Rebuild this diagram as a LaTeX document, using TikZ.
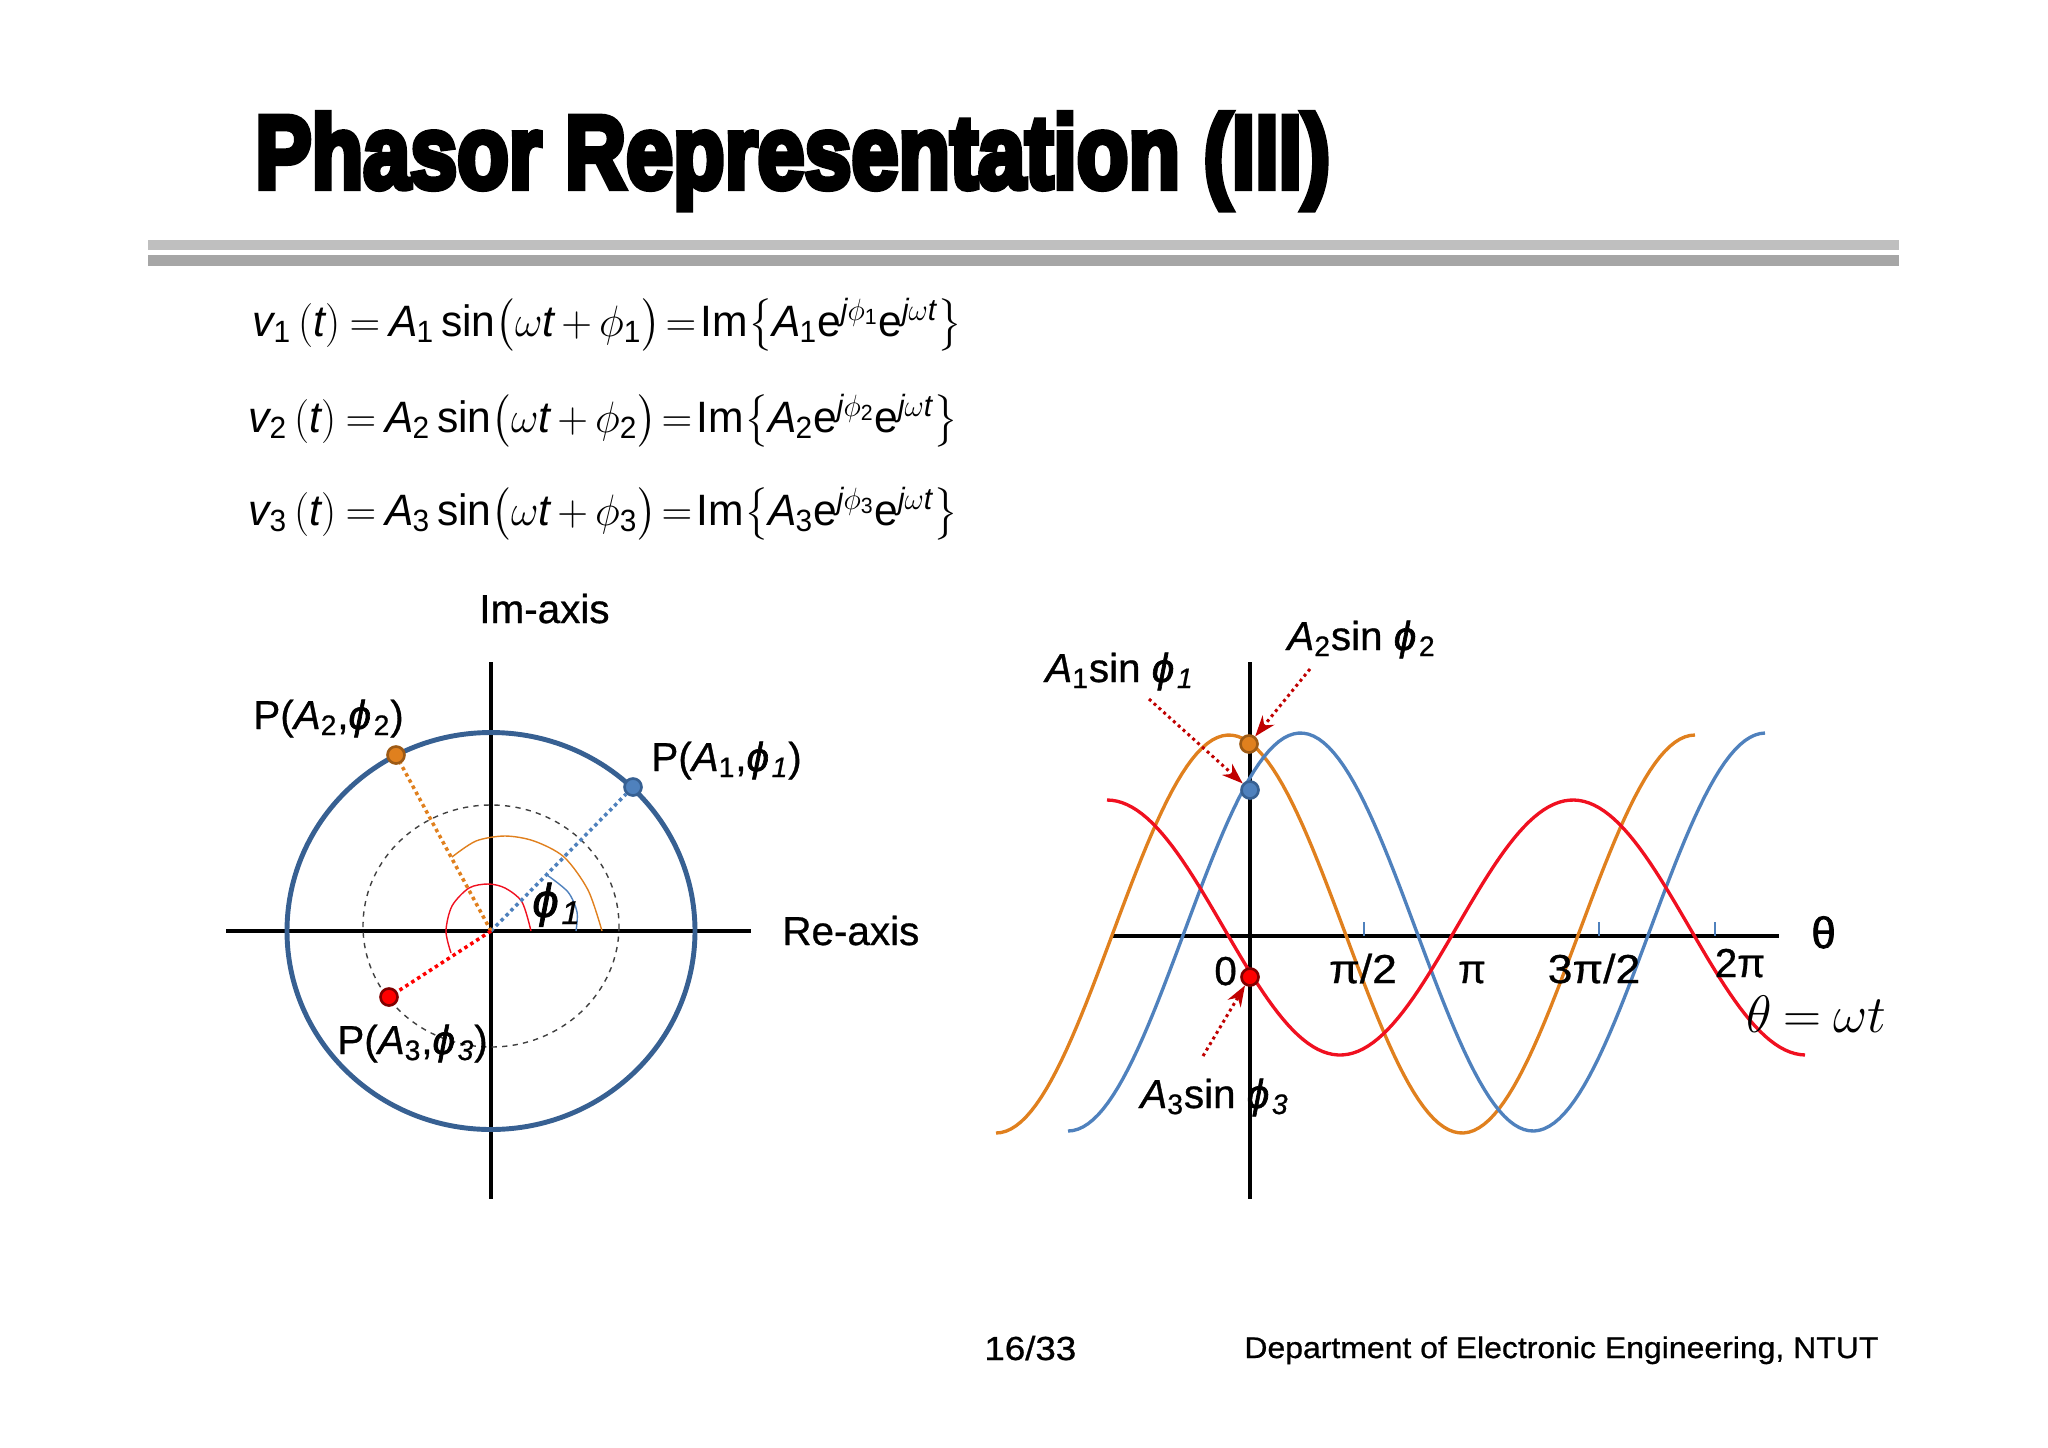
\documentclass[tikz,border=0pt]{standalone}
\usepackage{fix-cm}
\usepackage{amsmath,amssymb}
\usepackage{exscale}
\usepackage{fontspec}
\usepackage{xcolor}
\setmainfont{Liberation Sans}
\newfontfamily\titlefont[BoldFeatures={FakeBold=6}]{Liberation Sans}
\newfontfamily\labelfont[FakeBold=0.7]{Liberation Sans}
\newfontfamily\phifont[FakeBold=1.6]{Liberation Sans}
\usetikzlibrary{arrows.meta,positioning,calc}

\definecolor{phblue}{HTML}{4F81BD}
\definecolor{phring}{HTML}{376092}
\definecolor{phorange}{HTML}{E0801E}
\definecolor{phred}{HTML}{F01020}
\definecolor{pharrow}{HTML}{C00000}

\newcommand{\phasorline}[1]{$\text{\itshape v}_{\text{#1}}\left(\text{\itshape t}\right)\mkern-1mu=\mkern-1mu\text{\itshape A}_{\mkern-1mu\text{#1}}\,\text{sin}\bigl(\omega\text{\itshape t}\mkern-1mu+\mkern-1mu\phi_{\text{#1}}\bigr)\!=\!\text{Im}\!\left\{\text{\itshape A}_{\mkern-1mu\text{#1}}\text{e}^{\text{\itshape j}\phi_{\text{#1}}}\text{e}^{\text{\itshape j}\omega\text{\itshape t}}\right\}$}
\newcommand{\bphi}{{\phifont\itshape ϕ\kern 1.5pt}}
\newcommand{\subi}[1]{$_{\text{\itshape #1}}$}
\newcommand{\subr}[1]{$_{\text{#1}}$}

\tikzset{
    lbl/.style={anchor=base west, inner sep=0pt, font=\labelfont\fontsize{23}{27}\selectfont},
    eqn/.style={anchor=base west, inner sep=0pt, xscale=0.97, font=\fontsize{25}{29}\selectfont},
    foot/.style={anchor=base west, inner sep=0pt, font=\labelfont\fontsize{17}{20}\selectfont},
    axis/.style={black, line width=2pt},
    wave/.style={line width=1.9pt},
    dot/.style={circle, inner sep=0pt, minimum size=0.34cm, line width=1.5pt},
    spoke/.style={line width=2pt, dotted},
    callout/.style={pharrow, line width=1.7pt, dotted, -{Stealth[length=0.42cm,width=0.3cm,color=pharrow]}},
    angle/.style={line width=0.8pt}
}

\begin{document}
\begin{tikzpicture}[x=0.02cm, y=-0.02cm]
    \useasboundingbox (0,0) rectangle (2048,1447);

    % Heading
    \node[anchor=base west, inner sep=0pt, xscale=0.815] (title) at (255,188)
        {\titlefont\bfseries\fontsize{59}{65}\selectfont Phasor Representation (III)};
    \fill[black!25] (148,240) rectangle (1899,250);
    \fill[black!35] (148,255) rectangle (1899,266);

    % Equations
    \node[eqn] (eqa) at (252,336) {\phasorline{1}};
    \node[eqn] (eqb) at (248,432) {\phasorline{2}};
    \node[eqn] (eqc) at (248,525) {\phasorline{3}};

    % Phasor plane
    \coordinate (O) at (491,931);
    \draw[axis] (491,662) -- (491,1199);
    \draw[axis] (226,931) -- (751,931);
    \draw[phring, line width=2.8pt] (491,931) ellipse [x radius=204, y radius=198.5];
    \draw[black!75, line width=0.8pt, dashed] (491,926) ellipse [x radius=128, y radius=121];
    \draw[phorange, angle] plot[smooth] coordinates {(602,931) (588,890) (564,857) (534,841) (505,836) (476,841) (452,857)};
    \draw[phred, angle] plot[smooth] coordinates {(531,931) (522,902) (505,888) (488,884) (469,888) (452,906) (446,931) (451,953)};
    \draw[phblue, angle] plot[smooth] coordinates {(576,931) (577,912) (568,892) (547,875)};

    \node[dot, fill=phblue, draw=phring] (Pa) at (633,787) {};
    \node[dot, fill=phorange, draw=phorange!70!black] (Pb) at (396,755) {};
    \node[dot, fill=red, draw=red!50!black] (Pc) at (389,997) {};
    \draw[spoke, phblue] (O) -- (Pa);
    \draw[spoke, phorange] (O) -- (Pb);
    \draw[spoke, red] (O) -- (Pc);

    \node[lbl] (imlab) at (479,623) {Im-axis};
    \node[lbl] (relab) at (782,945) {Re-axis};
    \node[lbl] (palab) at (651,771) {P(\textit{A}\subr{1},\bphi\subi{1})};
    \node[lbl] (pblab) at (253,729) {P(\textit{A}\subr{2},\bphi\subr{2})};
    \node[lbl] (pclab) at (337,1054) {P(\textit{A}\subr{3},\bphi\subi{3})};
    \node[lbl, font=\labelfont\fontsize{27}{30}\selectfont] (phlab) at (532,917) {\bphi\subi{1}};

    % Sine waves
    \draw[axis] (1250,662) -- (1250,1199);
    \draw[axis] (1113,936) -- (1779,936);
    \foreach \tk in {1364,1599,1715}
        \draw[phblue, line width=0.7pt] (\tk,922) -- (\tk,936);
    \draw[phorange, wave] plot[domain=996:1695, samples=140] (\x, {934+199*cos((\x-996)/233*180)});
    \draw[phblue, wave] plot[domain=1068:1765, samples=140] (\x, {932+199*cos((\x-1068)/232.5*180)});
    \draw[phred, wave] plot[domain=1107:1805, samples=140] (\x, {927.5-127.5*cos((\x-1107)/233*180)});

    \node[dot, fill=phorange, draw=phorange!70!black] (Qb) at (1249,744) {};
    \node[dot, fill=phblue, draw=phring] (Qa) at (1250,790) {};
    \node[dot, fill=red, draw=red!50!black] (Qc) at (1250,977) {};

    \coordinate (ca) at (1149,699);
    \coordinate (cb) at (1310,669);
    \coordinate (cc) at (1203,1056);
    \draw[callout] (ca) -- (Qa);
    \draw[callout] (cb) -- (Qb);
    \draw[callout] (cc) -- (Qc);

    \node[lbl] (sa) at (1045,682) {\textit{A}\subr{1}sin \bphi\subi{1}};
    \node[lbl] (sb) at (1287,650) {\textit{A}\subr{2}sin \bphi\subr{2}};
    \node[lbl] (sc) at (1140,1108) {\textit{A}\subr{3}sin \bphi\subi{3}};

    \node[lbl, font=\phifont\fontsize{25}{27}\selectfont] (thlab) at (1811,948) {θ};
    \node[lbl] (zero) at (1214,985) {0};
    \node[lbl, anchor=base, xscale=1.1] (tka) at (1363,983) {π/2};
    \node[lbl, anchor=base] (tkb) at (1472,983) {π};
    \node[lbl, anchor=base, xscale=1.1] (tkc) at (1594,983) {3π/2};
    \node[lbl, anchor=base] (tkd) at (1740,977) {2π};
    \node[lbl, font=\fontsize{30}{32}\selectfont] (wt) at (1746,1032) {$\theta\mkern-1mu=\mkern-1mu\omega t$};

    % Footer
    \node[foot, font=\labelfont\fontsize{19}{22}\selectfont, xscale=1.1] (page) at (984,1360) {16/33};
    \node[foot, xscale=1.07] (dept) at (1244,1358) {Department of Electronic Engineering, NTUT};
\end{tikzpicture}
\end{document}
